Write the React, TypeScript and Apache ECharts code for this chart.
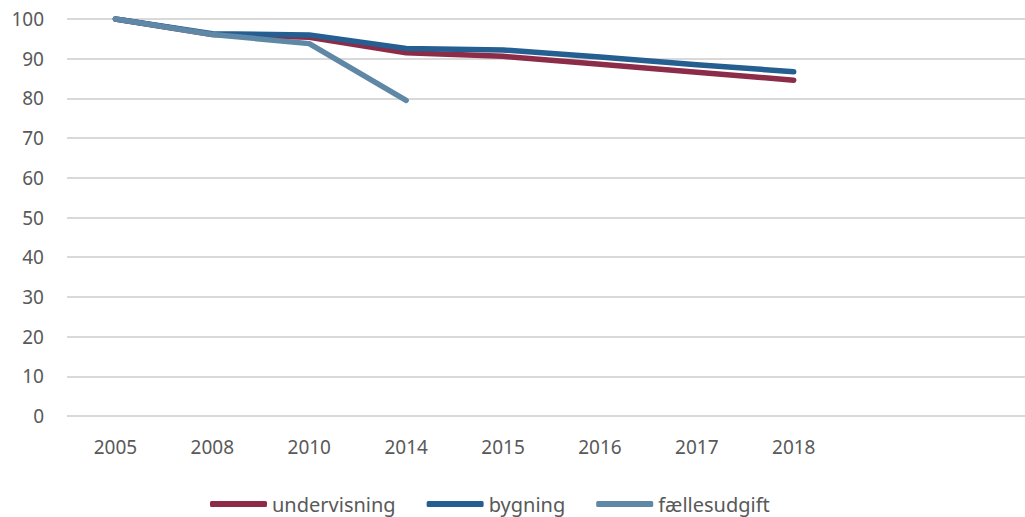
import React, { useEffect, useRef } from "react";
import * as echarts from "echarts";

const categories = ["2005", "2008", "2010", "2014", "2015", "2016", "2017", "2018", "", ""];
const undervisning = [100, 96.1, 95.4, 91.5, 90.6, 88.6, 86.6, 84.6, null, null];
const bygning = [100, 96.3, 96.0, 92.6, 92.2, 90.4, 88.5, 86.7, null, null];
const faellesudgift = [100, 96.1, 93.8, 79.5, null, null, null, null, null, null];
const seriesNames = ["undervisning", "bygning", "fællesudgift"];
const colors = ["#8C2C48", "#255E91", "#5F87A6"];

export default function App() {
  const ref = useRef<HTMLDivElement>(null);
  useEffect(() => {
    if (!ref.current) return;
    const chart = echarts.init(ref.current, undefined, { renderer: "svg" });
    const font = "Noto Sans";
    const dataSets = [undervisning, bygning, faellesudgift];
    chart.setOption({
      animation: false,
      color: colors,
      grid: { left: 67, top: 19, bottom: 101, width: 969, containLabel: false },
      legend: {
        top: 494,
        left: 210,
        padding: 0,
        itemWidth: 57,
        itemHeight: 6,
        itemGap: 31,
        icon: "roundRect",
        textStyle: { fontFamily: font, fontSize: 20, color: "#595959" },
        data: seriesNames,
      },
      xAxis: {
        type: "category",
        data: categories,
        boundaryGap: true,
        axisLine: { show: false },
        axisTick: { show: false },
        axisLabel: { fontFamily: font, fontSize: 19, color: "#595959", margin: 21 },
      },
      yAxis: {
        type: "value",
        min: 0,
        max: 100,
        interval: 10,
        axisLine: { show: false },
        axisTick: { show: false },
        axisLabel: { fontFamily: font, fontSize: 19, color: "#595959", margin: 23 },
        splitLine: { lineStyle: { color: "#D9D9D9", width: 2 } },
      },
      series: seriesNames.map((name, i) => ({
        name,
        type: "line",
        data: dataSets[i],
        symbol: "none",
        connectNulls: false,
        lineStyle: { width: 5.5, cap: "round", join: "round", color: colors[i] },
        itemStyle: { color: colors[i] },
      })),
    });
    return () => chart.dispose();
  }, []);
  return (
    <div style={{ position: "absolute", left: 0, top: 0, width: 1025, height: 517, overflow: "hidden" }}>
      <div ref={ref} style={{ width: 1045, height: 517 }} />
    </div>
  );
}
